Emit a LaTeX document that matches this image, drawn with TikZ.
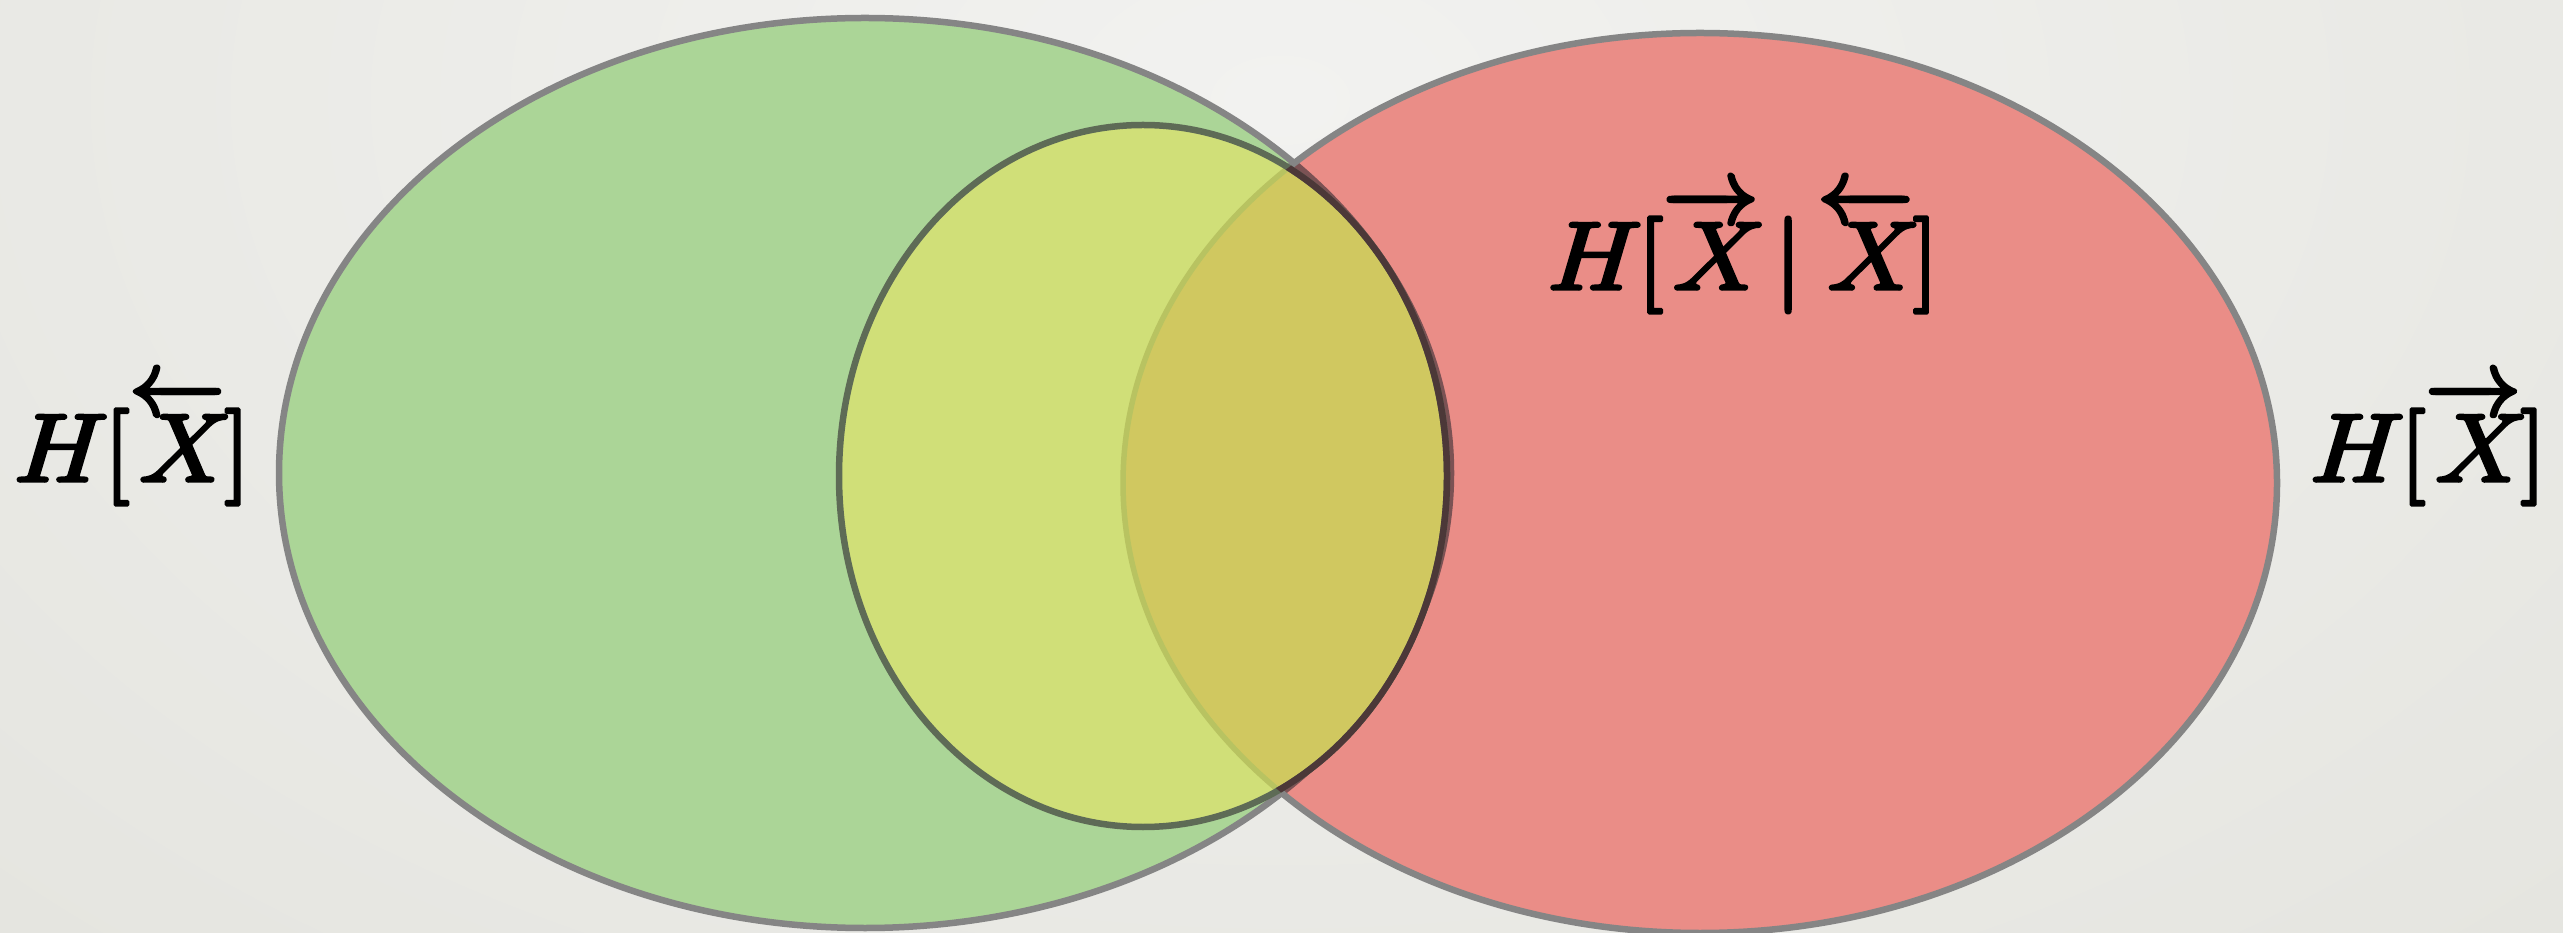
\RequirePackage{fix-cm}
\documentclass[tikz,border=0pt]{standalone}
\usepackage{amsmath}
\usepackage{graphicx}
\definecolor{bgin}{HTML}{F2F2F0}
\definecolor{bgout}{HTML}{DEDED7}
\definecolor{gfill}{HTML}{ABD597}
\definecolor{rfill}{HTML}{EA8D87}
\definecolor{yfill}{HTML}{D0DF78}
\definecolor{ofill}{HTML}{D0C860}
\definecolor{edge}{HTML}{858585}
\definecolor{yedge}{HTML}{5E6B56}
\definecolor{yedgedark}{HTML}{4C3838}
\definecolor{gunder}{HTML}{7B5254}
\definecolor{runder}{HTML}{B8C361}
\newcommand{\heavytext}[1]{\special{pdf:code 2 Tr 3.5 w 1 j 0 G}#1\special{pdf:code 0 Tr}}
\newcommand{\vH}{\text{\scalebox{1.18}[1]{\itshape H\/}}}
\newcommand{\vX}{\text{\scalebox{1.15}[1]{\itshape X}}}
\tikzset{
  vlabel/.style={anchor=base, inner sep=0pt, font=\fontsize{96}{110}\selectfont},
  outline/.style={line width=6.5pt},
}
\begin{document}
\begin{tikzpicture}[x=1pt,y=1pt]
\useasboundingbox (0,0) rectangle (2563,932);
% background
\begin{scope}
  \clip (0,0) rectangle (2563,932);
  \shade[inner color=bgin, outer color=bgout] (-1520,-968) rectangle (4080,2632);
\end{scope}
\def\greenpath{(865,459) ellipse [x radius=586, y radius=455]}
\def\redpath{(1700,449) ellipse [x radius=577, y radius=450]}
\def\yellowpath{(1143,456) ellipse [x radius=304, y radius=351]}
% fills
\fill[gfill] \greenpath;
\draw[edge, outline] \greenpath;
\fill[rfill] \redpath;
\begin{scope}
  \clip \redpath;
  \draw[gunder, outline] \greenpath;
\end{scope}
\draw[edge, outline] \redpath;
\fill[yfill] \yellowpath;
\begin{scope}
  \clip \redpath;
  \fill[ofill] \yellowpath;
\end{scope}
\begin{scope}
  \clip \yellowpath;
  \draw[runder, line width=5.5pt] \redpath;
\end{scope}
\draw[yedge, outline] \yellowpath;
\begin{scope}
  \clip \redpath;
  \draw[yedgedark, outline] \yellowpath;
\end{scope}
% labels
\node[vlabel] (past) at (130,451) {\heavytext{$\vH[\overleftarrow{\vX}]$}};
\node[vlabel] (future) at (2426,451) {\heavytext{$\vH[\overrightarrow{\vX}]$}};
\node[vlabel] (cond) at (1741,643) {\heavytext{$\vH[\overrightarrow{\vX}\,|\,\overleftarrow{\vX}]$}};
\end{tikzpicture}
\end{document}
